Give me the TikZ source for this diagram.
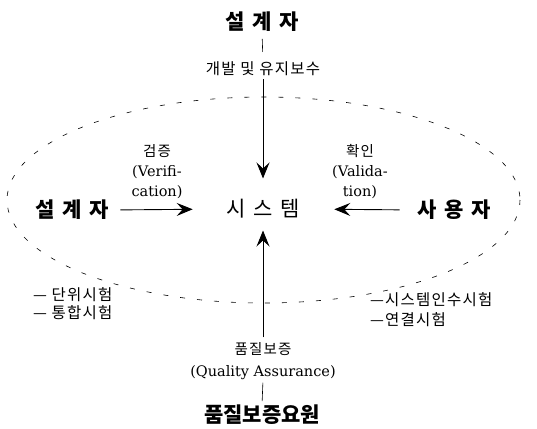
\documentclass[tikz,border=0pt]{standalone}
\usepackage{fontspec}
\newfontfamily\kr{Noto Sans CJK KR}
\newfontfamily\krs{Noto Sans CJK KR}[LetterSpace=8]
\newfontfamily\lat{DejaVu Serif}
\usetikzlibrary{arrows.meta}
\newcommand\gp{\hspace{0.35em}}
\begin{document}
\begin{tikzpicture}[x=1pt,y=-1pt,
 big/.style={font=\kr\bfseries\fontsize{21}{23}\selectfont, inner sep=0pt, outer sep=0pt},
 small/.style={font=\krs\fontsize{15.5}{18}\selectfont, inner sep=0pt, outer sep=0pt},
 lbl/.style={align=center, inner sep=0pt, outer sep=0pt, font=\lat\fontsize{14.5}{20}\selectfont},
 conn/.style={line width=0.6pt},
 arr/.style={line width=0.9pt, -{Stealth[length=16pt,width=13pt,inset=6pt]}},
 ell/.style={line width=0.6pt, dash pattern=on 5pt off 12pt}]
\useasboundingbox (0,0) rectangle (537,428);
\fill[white] (0,0) rectangle (537,428);
\draw[ell] (263.5,200) ellipse [x radius=256.5, y radius=103];
\node[big] (top) at (262,22) {설\gp 계\gp 자};
\node[small] (dev) at (263,69) {개발 및 유지보수};
\node[big, font=\kr\fontsize{21}{23}\selectfont] (sys) at (263,209) {시\gp 스\gp 템};
\node[big] (left) at (72,210) {설\gp 계\gp 자};
\node[big] (right) at (454,210) {사\gp 용\gp 자};
\node[lbl] (ver) at (157,172) {{\krs\fontsize{14.5}{15}\selectfont 검증}\\(Verifi-\\cation)};
\node[lbl] (val) at (360,172) {{\krs\fontsize{14.5}{15}\selectfont 확인}\\(Valida-\\tion)};
\node[lbl, font=\lat\fontsize{14.5}{22}\selectfont] (qa) at (263,361) {{\krs\fontsize{14.5}{15}\selectfont 품질보증}\\(Quality Assurance)};
\node[big] (bot) at (262,415) {품질보증요원};
\node[small, anchor=west] (t1) at (33,295) {— 단위시험};
\node[small, anchor=west] (t2) at (33,313) {— 통합시험};
\node[small, anchor=west] (t3) at (370,300) {—시스템인수시험};
\node[small, anchor=west] (t4) at (370,320) {—연결시험};
\draw[conn, shorten <=7pt, shorten >=10pt] (top.south) -- (dev.north);
\draw[arr, shorten <=3pt, shorten >=21pt] (dev.south) -- (sys.north);
\draw[arr, shorten <=5pt, shorten >=12pt] (qa.north) -- (sys.south);
\draw[conn, shorten <=3pt, shorten >=4pt] (qa.south) -- (bot.north);
\draw[arr, shorten <=12pt, shorten >=34pt] (left.east) -- (sys.west);
\draw[arr, shorten <=18pt, shorten >=35pt] (right.west) -- (sys.east);
\end{tikzpicture}
\end{document}
